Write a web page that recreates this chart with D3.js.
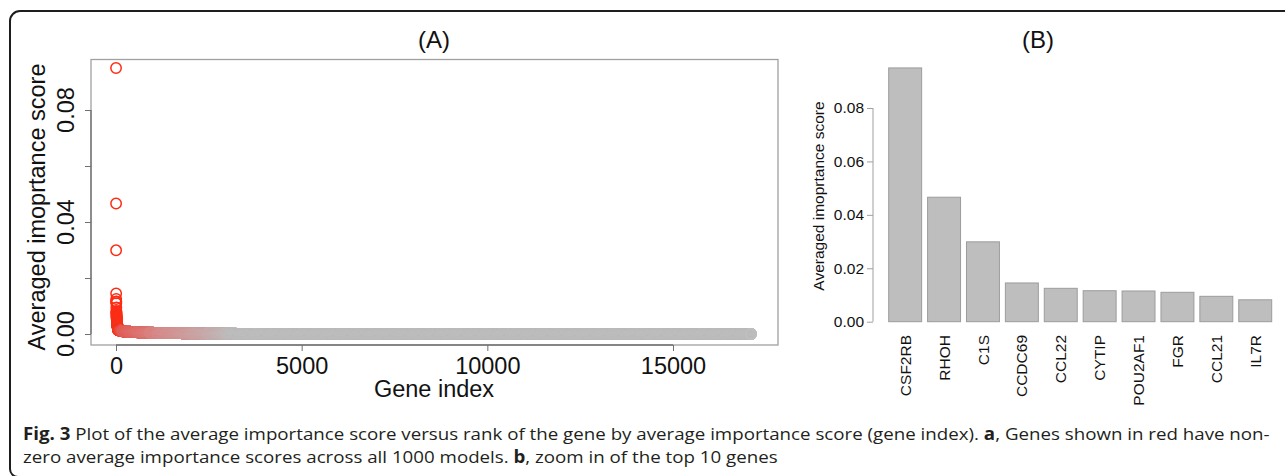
<!DOCTYPE html>
<html><head><meta charset="utf-8">
<script src="https://cdn.jsdelivr.net/npm/d3@7"></script>
<style>body{margin:0;background:#fff} svg{display:block}</style>
</head><body>
<svg id="c" width="1285" height="476"></svg>
<script>
// ---------- data ----------
const genes = ["CSF2RB","RHOH","C1S","CCDC69","CCL22","CYTIP","POU2AF1","FGR","CCL21","IL7R"];
const topScores = [0.0950,0.0466,0.0299,0.0145,0.0125,0.0116,0.0115,0.0110,0.0095,0.0082];
// ranks 11..60 (estimated from the dense red column)
const nextScores = [0.0078,0.0075,0.0072,0.0069,0.0066,0.0063,0.0061,0.0059,0.0057,0.0055,
  0.0053,0.0051,0.0049,0.0047,0.0046,0.0044,0.0043,0.0041,0.0040,0.0038,
  0.0037,0.0036,0.0035,0.0034,0.0033,0.0032,0.0031,0.0030,0.0029,0.0028,
  0.0027,0.0026,0.0025,0.0025,0.0024,0.0023,0.0022,0.0022,0.0021,0.0020,
  0.0020,0.0019,0.0019,0.0018,0.0018,0.0017,0.0017,0.0016,0.0016,0.0015];
// runs of (first rank, last rank, score) for the long flat tail
const tailRuns = [[61,120,0.0013],[121,200,0.0011],[201,350,0.0009],[351,600,0.0007],
  [601,1000,0.0005],[1001,1800,0.0004],[1801,3200,0.0002],[3201,17100,0]];
const totalGenes = 17100;
const xTicksA = [0,5000,10000,15000];
const yTicksA = [0,0.02,0.04,0.06,0.08];
const yLabelsA = [0,0.04,0.08];
const yTicksB = [0,0.02,0.04,0.06,0.08];
const yLabelB = "Averaged imoprtance score";
const yLabelA = "Averaged imoprtance score";
const xLabelA = "Gene index";
const captionLine1 = [["Fig. 3",true],[" Plot of the average importance score versus rank of the gene by average importance score (gene index). ",false],["a",true],[", Genes shown in red have non-",false]];
const captionLine2 = [["zero average importance scores across all 1000 models. ",false],["b",true],[", zoom in of the top 10 genes",false]];

// ---------- build gene table ----------
const geneData = [];
for (let r = 1; r <= totalGenes; r++) {
  let v;
  if (r <= topScores.length) v = topScores[r-1];
  else if (r <= topScores.length + nextScores.length) v = nextScores[r-1-topScores.length];
  else { const run = tailRuns.find(t => r >= t[0] && r <= t[1]); v = run ? run[2] : 0; }
  geneData.push({rank: r, score: v});
}

const svg = d3.select("#c");
const F = "Liberation Sans, Arial, Helvetica, sans-serif";

// frame
svg.append("path").attr("d","M18,477 A8,8 0 0 1 10,469 L10,21 A10,10 0 0 1 20,11 L1285,11")
  .attr("fill","none").attr("stroke","#1e1e1e").attr("stroke-width",2);

// ---------- panel A ----------
const xA = d3.scaleLinear().domain([0,15000]).range([116,673]);
const yA = d3.scaleLinear().domain([0,0.08]).range([334,110]);
const gA = svg.append("g");
gA.append("rect").attr("x",91).attr("y",59.5).attr("width",687).attr("height",285.5)
  .attr("fill","none").attr("stroke","#a0a0a0").attr("stroke-width",1.3);
const colA = d3.scaleLinear().domain([1,60,200,1200,2500,3200])
  .range(["#ff2a12","#f5341c","#e2605a","#d88c8c","#c8abab","#bebebe"]).clamp(true);
gA.append("g").selectAll("circle").data(geneData).join("circle")
  .attr("cx",d=>xA(d.rank)).attr("cy",d=>yA(d.score)).attr("r",5.2)
  .attr("fill","none").attr("stroke",d=>colA(d.rank)).attr("stroke-width",1.5);
// x axis
const axA = gA.append("g").attr("transform","translate(0,345)")
  .call(d3.axisBottom(xA).tickValues(xTicksA).tickSize(6).tickPadding(4).tickFormat(d3.format("d")));
axA.select(".domain").attr("d",`M${xA(0)},0H${xA(15000)}`).attr("stroke","#707070").attr("stroke-width",1.3);
axA.selectAll(".tick line").attr("stroke","#707070");
axA.selectAll(".tick text").attr("font-family",F).attr("font-size",23.5).attr("fill","#111").attr("dy","0.8em");
// y axis
const ayA = gA.append("g").attr("transform","translate(91,0)")
  .call(d3.axisLeft(yA).tickValues(yTicksA).tickSize(6).tickFormat(""));
ayA.select(".domain").attr("d",`M0,${yA(0)}V${yA(0.08)}`).attr("stroke","#707070").attr("stroke-width",1.3);
ayA.selectAll(".tick line").attr("stroke","#707070");
gA.append("g").selectAll("text").data(yLabelsA).join("text")
  .attr("transform",d=>`translate(74,${yA(d)}) rotate(-90)`).attr("text-anchor","middle")
  .attr("font-family",F).attr("font-size",23.5).attr("fill","#111").text(d=>d3.format(".2f")(d));
gA.append("text").attr("transform","translate(45,207) rotate(-90)").attr("text-anchor","middle")
  .attr("font-family",F).attr("font-size",23.5).attr("fill","#111").text(yLabelA);
gA.append("text").attr("x",434).attr("y",397).attr("text-anchor","middle")
  .attr("font-family",F).attr("font-size",23.5).attr("fill","#111").text(xLabelA);
gA.append("text").attr("x",434).attr("y",48).attr("text-anchor","middle")
  .attr("font-family",F).attr("font-size",24).attr("fill","#111").text("(A)");

// ---------- panel B ----------
const xB = d3.scaleBand().domain(genes).range([888.7,1271.7]).paddingInner(0.153).paddingOuter(0);
const yB = d3.scaleLinear().domain([0,0.08]).range([321.7,108]);
const gB = svg.append("g");
gB.append("g").selectAll("rect").data(genes).join("rect")
  .attr("x",d=>xB(d)).attr("width",xB.bandwidth())
  .attr("y",(d,i)=>yB(topScores[i])).attr("height",(d,i)=>yB(0)-yB(topScores[i]))
  .attr("fill","#bebebe").attr("stroke","#9c9c9c").attr("stroke-width",1);
const ayB = gB.append("g").attr("transform","translate(873,0)")
  .call(d3.axisLeft(yB).tickValues(yTicksB).tickSize(6).tickPadding(3).tickFormat(d3.format(".2f")));
ayB.select(".domain").attr("d",`M0,${yB(0)}V${yB(0.08)}`).attr("stroke","#a0a0a0");
ayB.selectAll(".tick line").attr("stroke","#a0a0a0");
ayB.selectAll(".tick text").attr("font-family",F).attr("font-size",15.5).attr("fill","#111");
gB.append("g").selectAll("text").data(genes).join("text")
  .attr("transform",d=>`translate(${xB(d)+xB.bandwidth()/2},335) rotate(-90)`)
  .attr("text-anchor","end").attr("dy","0.36em")
  .attr("font-family",F).attr("font-size",15.5).attr("fill","#111").text(d=>d);
gB.append("text").attr("transform","translate(824,196) rotate(-90)").attr("text-anchor","middle")
  .attr("font-family",F).attr("font-size",15.5).attr("fill","#111").text(yLabelB);
gB.append("text").attr("x",1038).attr("y",48).attr("text-anchor","middle")
  .attr("font-family",F).attr("font-size",24).attr("fill","#111").text("(B)");

// ---------- caption ----------
const CF = "Open Sans, Noto Sans, sans-serif";
function capLine(parts) {
  const t = svg.append("text").attr("x",0).attr("y",0).attr("font-family",CF)
    .attr("font-size",17).attr("fill","#231f20");
  parts.forEach(p => t.append("tspan").attr("font-weight",p[1]?"bold":"normal").text(p[0]));
  return t;
}
const c1 = capLine(captionLine1), c2 = capLine(captionLine2);
const w1 = c1.node().getComputedTextLength();
const sx = (1270-23)/w1;
c1.attr("transform",`translate(23,440) scale(${sx},1)`);
c2.attr("transform",`translate(23,463) scale(${sx},1)`);
</script>
</body></html>
